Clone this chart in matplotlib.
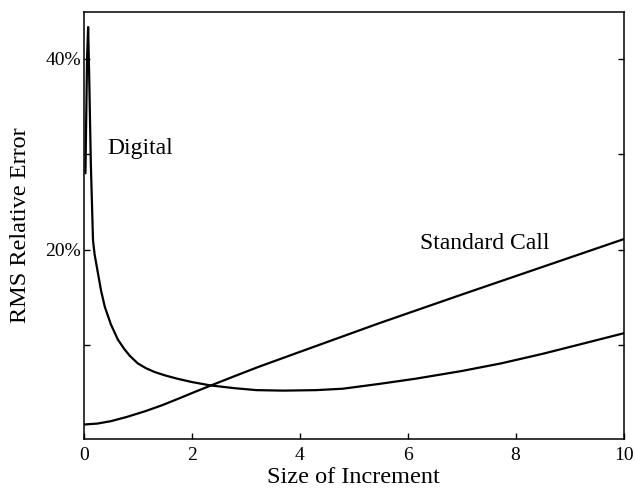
import matplotlib

matplotlib.use("Agg")
import matplotlib.pyplot as plt

# values (x = size of increment, y = RMS relative error in %)
digital_x = [0.03, 0.06, 0.08, 0.10, 0.13, 0.17, 0.20, 0.26, 0.32, 0.39, 0.50,
             0.63, 0.75, 0.85, 1.00, 1.15, 1.31, 1.50, 1.73, 2.00, 2.34, 2.80,
             3.20, 3.70, 4.30, 4.80, 5.47, 6.15, 7.00, 7.73, 8.50, 9.20, 10.0]
digital_y = [28.0, 40.0, 43.3, 38.0, 29.0, 21.0, 19.5, 17.6, 15.7, 14.0, 12.2,
             10.6, 9.6, 8.9, 8.1, 7.6, 7.2, 6.85, 6.5, 6.15, 5.8, 5.5,
             5.3, 5.25, 5.3, 5.45, 5.95, 6.5, 7.3, 8.1, 9.1, 10.1, 11.25]

standard_x = [0.0, 0.25, 0.5, 0.8, 1.14, 1.45, 1.75, 2.05, 2.36, 2.8, 3.22,
              4.0, 5.47, 7.0, 8.5, 10.0]
standard_y = [1.7, 1.8, 2.05, 2.5, 3.1, 3.72, 4.4, 5.1, 5.8, 6.78, 7.7,
              9.3, 12.3, 15.3, 18.2, 21.1]

y_ticks = [10, 20, 30, 40]
y_tick_labels = ["", "20%", "", "40%"]
x_ticks = [0, 2, 4, 6, 8, 10]

plt.rcParams["font.family"] = ["Liberation Serif", "DejaVu Serif"]

fig = plt.figure(figsize=(6.35, 4.92), dpi=100)
ax = fig.add_axes([0.132, 0.108, 0.850, 0.868])

ax.plot(digital_x, digital_y, color="black", lw=1.6,
        solid_joinstyle="round", solid_capstyle="round")
ax.plot(standard_x, standard_y, color="black", lw=1.6,
        solid_joinstyle="round", solid_capstyle="round")

ax.text(0.44, 30.6, "Digital", fontsize=17, va="center", ha="left")
ax.text(7.42, 20.6, "Standard Call", fontsize=17, va="center", ha="center")

ax.set_xlim(0, 10)
ax.set_ylim(0.2, 44.9)
ax.set_xticks(x_ticks)
ax.set_xticklabels([str(t) for t in x_ticks])
ax.set_yticks(y_ticks)
ax.set_yticklabels(y_tick_labels)
ax.tick_params(axis="x", direction="in", length=4, width=1, labelsize=14, pad=6)
ax.tick_params(axis="y", direction="in", length=4, width=1, labelsize=14, pad=2,
               right=True)
for spine in ax.spines.values():
    spine.set_linewidth(1.1)

ax.set_xlabel("Size of Increment", fontsize=17.5, labelpad=2)
ax.set_ylabel("RMS Relative Error", fontsize=17.5, labelpad=10)

fig.savefig("out.png", dpi=100)
